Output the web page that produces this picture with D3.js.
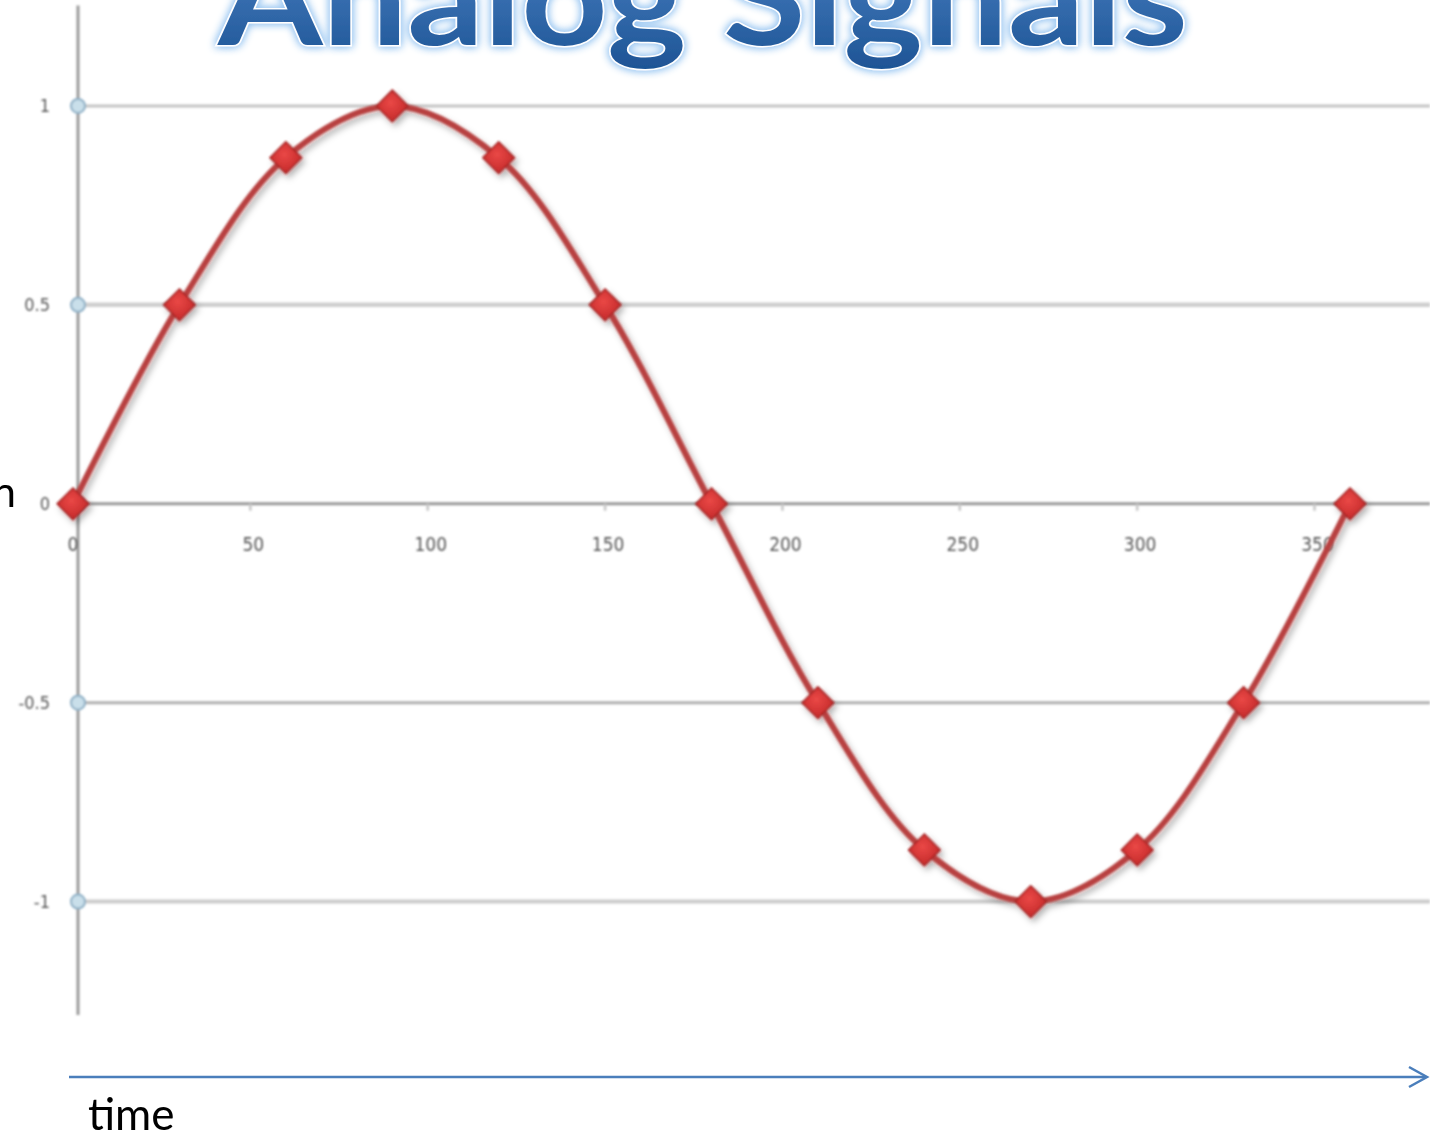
<!DOCTYPE html>
<html>
<head>
<meta charset="utf-8">
<script src="https://cdn.jsdelivr.net/npm/d3@7"></script>
<style>
  html, body { margin: 0; padding: 0; background: #fff; overflow: hidden; }
  svg { display: block; }
</style>
</head>
<body>
<svg id="chart" width="1430" height="1137"></svg>
<script>
// Sampled sine wave: angle in degrees and its amplitude
const angles = [0, 30, 60, 90, 120, 150, 180, 210, 240, 270, 300, 330, 360];
const amplitude = [0, 0.5, 0.87, 1, 0.87, 0.5, 0, -0.5, -0.87, -1, -0.87, -0.5, 0];
const xTicks = [0, 50, 100, 150, 200, 250, 300, 350];
const yTicks = [1, 0.5, 0, -0.5, -1];
const yTickLabels = ["1", "0.5", "0", "-0.5", "-1"];

const svg = d3.select("#chart");
const W = 1430, H = 1137;

const x = d3.scaleLinear().domain([0, 360]).range([73, 1350]);
const y = d3.scaleLinear().domain([-1.28, 1.25]).range([1013, 6.5]);

const defs = svg.append("defs");

// title gradient + glow
const grad = defs.append("linearGradient").attr("id", "titleGrad")
  .attr("x1", 0).attr("y1", 0).attr("x2", 0).attr("y2", 1);
grad.append("stop").attr("offset", "0%").attr("stop-color", "#5089cb");
grad.append("stop").attr("offset", "100%").attr("stop-color", "#1d5394");

const glow = defs.append("filter").attr("id", "glow")
  .attr("x", "-10%").attr("y", "-30%").attr("width", "120%").attr("height", "160%");
glow.append("feGaussianBlur").attr("in", "SourceAlpha").attr("stdDeviation", 4).attr("result", "b");
glow.append("feFlood").attr("flood-color", "#9cc8f2").attr("flood-opacity", 1);
glow.append("feComposite").attr("in2", "b").attr("operator", "in").attr("result", "g");
const gm = glow.append("feMerge");
gm.append("feMergeNode").attr("in", "g");
gm.append("feMergeNode").attr("in", "g");
gm.append("feMergeNode").attr("in", "SourceGraphic");

const soft = defs.append("filter").attr("id", "soft");
soft.append("feGaussianBlur").attr("stdDeviation", 1);

const shadow = defs.append("filter").attr("id", "shadow")
  .attr("x", "-50%").attr("y", "-50%").attr("width", "200%").attr("height", "200%");
shadow.append("feGaussianBlur").attr("in", "SourceGraphic").attr("stdDeviation", 0.8).attr("result", "s");
shadow.append("feDropShadow").attr("in", "s").attr("dx", 3).attr("dy", 4).attr("stdDeviation", 3)
  .attr("flood-color", "#000").attr("flood-opacity", 0.3);

const markerGrad = defs.append("radialGradient").attr("id", "mk")
  .attr("cx", "45%").attr("cy", "40%").attr("r", "60%");
markerGrad.append("stop").attr("offset", "0%").attr("stop-color", "#ea4846");
markerGrad.append("stop").attr("offset", "100%").attr("stop-color", "#c42a2a");

// gridlines
const gridStyle = {
  "1": { c: "#c4c4c4", w: 3 },
  "0.5": { c: "#cfcfcf", w: 4.5 },
  "0": { c: "#9a9a9a", w: 3 },
  "-0.5": { c: "#b0b0b0", w: 3 },
  "-1": { c: "#cccccc", w: 4 }
};
const plot = svg.append("g").attr("filter", "url(#soft)");
plot.selectAll("line.grid").data(yTicks).join("line")
  .attr("class", "grid")
  .attr("x1", 78).attr("x2", W)
  .attr("y1", d => y(d)).attr("y2", d => y(d))
  .attr("stroke", d => gridStyle[String(d)].c)
  .attr("stroke-width", d => gridStyle[String(d)].w);

// vertical axis
plot.append("line")
  .attr("x1", 78).attr("x2", 78)
  .attr("y1", y.range()[1] - 1).attr("y2", y.range()[0] + 2)
  .attr("stroke", "#999").attr("stroke-width", 3);

// x tick marks on the zero line
plot.selectAll("line.xt").data(xTicks.filter(d => d > 0)).join("line")
  .attr("class", "xt")
  .attr("x1", d => x(d)).attr("x2", d => x(d))
  .attr("y1", y(0)).attr("y2", y(0) + 7)
  .attr("stroke", "#c8c8c8").attr("stroke-width", 2.5);

// x tick labels
plot.selectAll("text.xl").data(xTicks).join("text")
  .attr("class", "xl")
  .attr("x", d => x(d) + (d === 0 ? 0 : 3)).attr("y", y(0) + 47)
  .attr("text-anchor", "middle")
  .attr("font-family", "DejaVu Sans Condensed, DejaVu Sans, sans-serif")
  .attr("font-size", 19)
  .attr("fill", "#555")
  .text(d => d);

// y tick markers and labels
plot.selectAll("circle.yt").data(yTicks).join("circle")
  .attr("class", "yt")
  .attr("cx", 78).attr("cy", d => y(d)).attr("r", 7)
  .attr("fill", "#c9dfea").attr("stroke", "#8fb0c6").attr("stroke-width", 2);
plot.selectAll("text.yl").data(yTicks).join("text")
  .attr("class", "yl")
  .attr("x", 50).attr("y", d => y(d) + 6)
  .attr("text-anchor", "end")
  .attr("font-family", "DejaVu Sans Condensed, DejaVu Sans, sans-serif")
  .attr("font-size", 18)
  .attr("fill", "#555")
  .text((d, i) => yTickLabels[i]);

// the smoothed signal line
const pts = angles.map((a, i) => [a, amplitude[i]]);
const line = d3.line().x(d => x(d[0])).y(d => y(d[1])).curve(d3.curveCatmullRom.alpha(0.5));
const series = svg.append("g").attr("filter", "url(#shadow)");
series.append("path")
  .attr("d", line(pts))
  .attr("fill", "none")
  .attr("stroke", "#b8413f")
  .attr("stroke-width", 6)
  .attr("stroke-linejoin", "round");

// diamond markers
const diamond = d3.symbol().type(d3.symbolDiamond2).size(640);
series.selectAll("path.mk").data(pts).join("path")
  .attr("class", "mk")
  .attr("transform", d => `translate(${x(d[0])},${y(d[1])})`)
  .attr("d", diamond)
  .attr("fill", "url(#mk)")
  .attr("stroke", "#a52222")
  .attr("stroke-width", 1.5);

// title
svg.append("text")
  .attr("x", 218).attr("y", 45)
  .attr("font-family", "Lato, 'Open Sans', sans-serif")
  .attr("font-weight", 700)
  .attr("font-size", 130)
  .attr("textLength", 970)
  .attr("lengthAdjust", "spacingAndGlyphs")
  .attr("fill", "url(#titleGrad)")
  .attr("stroke", "#ffffff")
  .attr("stroke-width", 3)
  .attr("paint-order", "stroke")
  .attr("filter", "url(#glow)")
  .text("Analog Signals");

// side label (runs off the left edge)
svg.append("text")
  .attr("x", 16).attr("y", 507)
  .attr("text-anchor", "end")
  .attr("font-family", "Lato, 'Open Sans', sans-serif")
  .attr("font-size", 42)
  .attr("fill", "#000")
  .text("n");

// time arrow
const ay = 1077;
svg.append("line")
  .attr("x1", 69).attr("x2", 1425).attr("y1", ay).attr("y2", ay)
  .attr("stroke", "#4a7ebb").attr("stroke-width", 2.5);
svg.append("path")
  .attr("d", `M1409,${ay - 10} L1427,${ay} L1409,${ay + 10}`)
  .attr("fill", "none").attr("stroke", "#4a7ebb").attr("stroke-width", 2.5);

svg.append("text")
  .attr("x", 88).attr("y", 1130)
  .attr("font-family", "Lato, 'Open Sans', sans-serif")
  .attr("font-size", 44)
  .attr("fill", "#000")
  .text("time");
</script>
</body>
</html>
